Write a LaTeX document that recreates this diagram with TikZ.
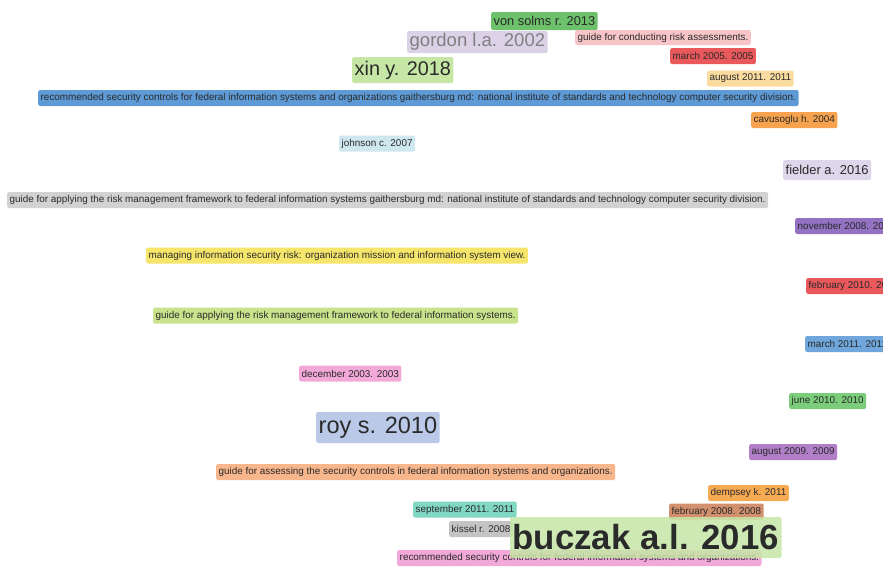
\documentclass[tikz,border=0pt]{standalone}
\usepackage{fontspec}
\setmainfont{Liberation Sans}
\newcommand\fsz[1]{\fontsize{#1}{#1}\selectfont}
\pgfdeclarelayer{background}
\pgfsetlayers{background,main}
\definecolor{cVon}{HTML}{6CC16A}
\definecolor{cGordon}{HTML}{DCD2E8}
\definecolor{cCond}{HTML}{F7C5C8}
\definecolor{cRed}{HTML}{E9585B}
\definecolor{cXin}{HTML}{C6E6A6}
\definecolor{cAug11}{HTML}{FBDCA0}
\definecolor{cBlue}{HTML}{5D9AD6}
\definecolor{cOrange}{HTML}{F6A24E}
\definecolor{cJohn}{HTML}{CFE7EF}
\definecolor{cFiel}{HTML}{DED6EA}
\definecolor{cGray}{HTML}{D2D2D2}
\definecolor{cNov}{HTML}{9372C4}
\definecolor{cYel}{HTML}{F6E56B}
\definecolor{cGApp}{HTML}{C9E38C}
\definecolor{cMar11}{HTML}{6FA7DC}
\definecolor{cPink}{HTML}{F2A9D9}
\definecolor{cJune}{HTML}{7BCD7B}
\definecolor{cRoy}{HTML}{B9C9E7}
\definecolor{cAug09}{HTML}{B17FC8}
\definecolor{cAssess}{HTML}{F8B68C}
\definecolor{cDemp}{HTML}{F6AA52}
\definecolor{cSept}{HTML}{80D8C2}
\definecolor{cFeb08}{HTML}{D2906E}
\definecolor{cKiss}{HTML}{C4C4C4}
\definecolor{cLinkG}{HTML}{E6F4D6}
\definecolor{cLinkP}{HTML}{E8DFEF}
\definecolor{cTxt}{HTML}{2A2A2A}
\tikzset{
  lbl/.style={rounded corners=2pt, anchor=west, inner xsep=2.5pt, inner ysep=0pt, text=cTxt, font=\fsz{9.9}, minimum height=16},
  link/.style={line width=8pt, line cap=round}
}
\begin{document}
\begin{tikzpicture}[x=1pt,y=-1pt]
\useasboundingbox (0,0) rectangle (883,566);
\clip (0,0) rectangle (883,566);
\fill[white] (0,0) rectangle (883,566);
\node[lbl, fill=cVon, minimum height=18, font=\fsz{12.8}] (von) at (491,21) {von solms r. 2013};
\node[lbl, fill=cGordon, minimum height=22, font=\fsz{18.5}, text=gray] (gordon) at (407,42) {gordon l.a. 2002};
\node[lbl, fill=cCond, minimum height=15] (cond) at (575,37.5) {guide for conducting risk assessments.};
\node[lbl, fill=cRed] (mar05) at (670,56) {march 2005. 2005};
\node[lbl, fill=cXin, minimum height=26, font=\fsz{19.8}] (xin) at (352,70) {xin y. 2018};
\node[lbl, fill=cAug11] (aug11) at (707,78.5) {august 2011. 2011};
\node[lbl, fill=cBlue] (rec1) at (38,98) {recommended security controls for federal information systems and organizations gaithersburg md: national institute of standards and technology computer security division.};
\node[lbl, fill=cOrange] (cav) at (751,120) {cavusoglu h. 2004};
\node[lbl, fill=cJohn] (john) at (339,143.5) {johnson c. 2007};
\node[lbl, fill=cFiel, minimum height=20, font=\fsz{12.9}] (fielder) at (783,170) {fielder a. 2016};
\node[lbl, fill=cGray] (gapp1) at (7,200) {guide for applying the risk management framework to federal information systems gaithersburg md: national institute of standards and technology computer security division.};
\node[lbl, fill=cNov] (nov) at (795,226) {november 2008. 2008};
\node[lbl, fill=cYel] (manag) at (146,255.5) {managing information security risk: organization mission and information system view.};
\node[lbl, fill=cRed] (feb10) at (806,286) {february 2010. 2010};
\node[lbl, fill=cGApp] (gapp2) at (153,315.5) {guide for applying the risk management framework to federal information systems.};
\node[lbl, fill=cMar11] (mar11) at (805,344) {march 2011. 2011};
\node[lbl, fill=cPink] (dec) at (299,373.5) {december 2003. 2003};
\node[lbl, fill=cJune] (june) at (789,401) {june 2010. 2010};
\node[lbl, fill=cRoy, minimum height=31, font=\fsz{23.5}] (roy) at (316,427.5) {roy s. 2010};
\node[lbl, fill=cAug09] (aug09) at (749,452) {august 2009. 2009};
\node[lbl, fill=cAssess] (assess) at (216,472) {guide for assessing the security controls in federal information systems and organizations.};
\node[lbl, fill=cDemp] (demp) at (708,493) {dempsey k. 2011};
\node[lbl, fill=cSept] (sept) at (413,509.5) {september 2011. 2011};
\node[lbl, fill=cFeb08] (feb08) at (669,511.5) {february 2008. 2008};
\node[lbl, fill=cKiss] (kissel) at (449,529) {kissel r. 2008};
\node[lbl, fill=cPink] (rec2) at (397,558) {recommended security controls for federal information systems and organizations.};
\node[lbl, fill=cXin, fill opacity=0.85, text opacity=1, minimum height=41, font=\fsz{34.8}\bfseries] (buczak) at (510,537.5) {buczak a.l. 2016};
\begin{pgfonlayer}{background}
\draw[link, cLinkG] (xin.center) -- (buczak.center);
\draw[link, cLinkP] (gordon.center) -- (fielder.center);
\end{pgfonlayer}
\end{tikzpicture}
\end{document}
